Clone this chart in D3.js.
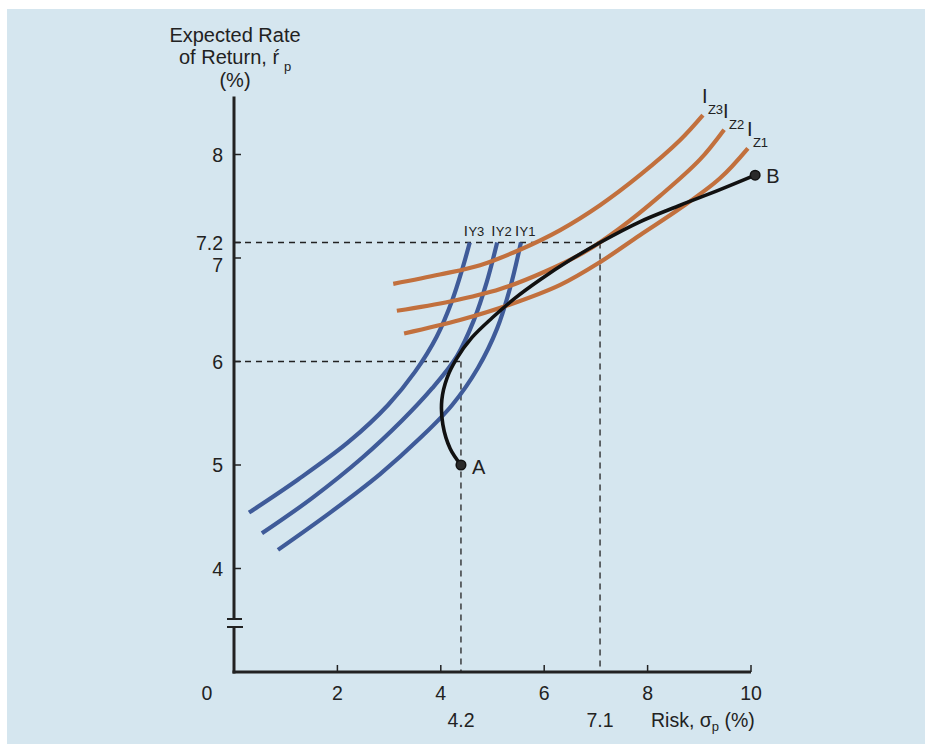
<!DOCTYPE html>
<html><head><meta charset="utf-8">
<script src="https://cdn.jsdelivr.net/npm/d3@7"></script>
<style>body{margin:0;background:#fff}svg{display:block}text{font-family:"Liberation Sans",Arial,Helvetica,sans-serif;fill:#222}</style>
</head><body><svg id="c" width="928" height="744"></svg>
<script>
// ---- data ----
const xTickValues = [2, 4, 6, 8, 10];
const xTickLabels = ["2", "4", "6", "8", "10"];
const yTickValues = [4, 5, 6, 7, 8];
const yTickLabels = ["4", "5", "6", "7", "8"];
const markX = [4.39, 7.08];          // dashed guide x positions
const markXLabels = ["4.2", "7.1"];
const markY = [6.0, 7.15];           // dashed guide y positions
const markYLabels = ["6", "7.2"];

const indiffYNames = ["Y3", "Y2", "Y1"];
const indiffY3 = [[0.29,4.54],[1.24,4.86],[2.21,5.22],[2.98,5.58],[3.50,5.90],[3.92,6.24],[4.22,6.59],[4.42,6.90],[4.56,7.15]];
const indiffY2 = [[0.54,4.34],[1.51,4.68],[2.48,5.07],[3.25,5.43],[3.83,5.74],[4.31,6.05],[4.64,6.40],[4.89,6.77],[5.09,7.15]];
const indiffY1 = [[0.85,4.18],[1.86,4.54],[2.82,4.91],[3.60,5.26],[4.22,5.58],[4.72,5.94],[5.09,6.32],[5.34,6.71],[5.55,7.15]];

const indiffZNames = ["Z3", "Z2", "Z1"];
const indiffZ3 = [[3.08,6.75],[3.98,6.84],[4.76,6.93],[5.53,7.08],[6.31,7.27],[7.08,7.51],[7.85,7.80],[8.63,8.14],[9.07,8.38]];
const indiffZ2 = [[3.15,6.49],[4.18,6.58],[5.15,6.70],[6.02,6.87],[6.79,7.06],[7.47,7.29],[8.24,7.60],[9.01,7.95],[9.48,8.24]];
const indiffZ1 = [[3.29,6.27],[4.37,6.40],[5.34,6.55],[6.31,6.74],[7.08,6.96],[7.85,7.22],[8.63,7.48],[9.40,7.77],[9.94,8.06]];

const frontier = [[4.39,5.00],[4.18,5.16],[4.04,5.39],[4.02,5.63],[4.12,5.84],[4.31,6.03],[4.60,6.23],[4.99,6.42],[5.43,6.61],[5.92,6.79],[6.50,6.98],[7.08,7.15],[7.85,7.35],[8.63,7.51],[9.40,7.66],[10.08,7.80]];
const pointNames = ["A", "B"];

// ---- drawing ----
const svg = d3.select("#c");
svg.append("rect").attr("x",7).attr("y",9).attr("width",918).attr("height",735).attr("fill","#d5e6ef");

const x = d3.scaleLinear().domain([0,10]).range([234,751]);
const y = d3.scaleLinear().domain([3,8]).range([672,154.5]);
const line = d3.line().x(d=>x(d[0])).y(d=>y(d[1])).curve(d3.curveCatmullRom.alpha(0.5));

// dashed guides
const dash = svg.append("g").attr("stroke","#222").attr("stroke-width",1.3).attr("stroke-dasharray","6,5").attr("fill","none");
dash.append("line").attr("x1",x(0)).attr("x2",x(markX[1])).attr("y1",y(markY[1])).attr("y2",y(markY[1]));
dash.append("line").attr("x1",x(markX[1])).attr("x2",x(markX[1])).attr("y1",y(markY[1])).attr("y2",y(3));
dash.append("line").attr("x1",x(0)).attr("x2",x(markX[0])).attr("y1",y(markY[0])).attr("y2",y(markY[0]));
dash.append("line").attr("x1",x(markX[0])).attr("x2",x(markX[0])).attr("y1",y(markY[0])).attr("y2",y(3));

// axes
const ax = svg.append("g").attr("stroke","#222").attr("fill","none");
ax.append("line").attr("x1",x(0)).attr("x2",x(0)).attr("y1",y(8.56)).attr("y2",619).attr("stroke-width",3);
ax.append("line").attr("x1",x(0)).attr("x2",x(0)).attr("y1",627).attr("y2",y(3)+1.5).attr("stroke-width",3);
ax.append("line").attr("x1",227).attr("x2",242).attr("y1",619).attr("y2",619).attr("stroke-width",2);
ax.append("line").attr("x1",227).attr("x2",243).attr("y1",627).attr("y2",627).attr("stroke-width",2);
ax.append("line").attr("x1",x(0)-1.5).attr("x2",x(10)).attr("y1",y(3)).attr("y2",y(3)).attr("stroke-width",3);
xTickValues.forEach(v=>ax.append("line").attr("x1",x(v)).attr("x2",x(v)).attr("y1",y(3)).attr("y2",y(3)-7).attr("stroke-width",1.5));
yTickValues.concat([markY[1]]).forEach(v=>ax.append("line").attr("x1",x(0)).attr("x2",x(0)+7).attr("y1",y(v)).attr("y2",y(v)).attr("stroke-width",1.5));

// tick labels
const T = svg.append("g").attr("font-size",19.5);
xTickValues.forEach((v,i)=>T.append("text").attr("x",x(v)).attr("y",700).attr("text-anchor","middle").text(xTickLabels[i]));
T.append("text").attr("x",207).attr("y",700).attr("text-anchor","middle").text("0");
yTickValues.forEach((v,i)=>{
  const off = v===7 ? 7 : 0;
  T.append("text").attr("x",223).attr("y",y(v)+off).attr("dy","0.36em").attr("text-anchor","end").text(yTickLabels[i]);
});
T.append("text").attr("x",223).attr("y",y(markY[1])+1).attr("dy","0.36em").attr("text-anchor","end").text(markYLabels[1]);
markX.forEach((v,i)=>T.append("text").attr("x",x(v)).attr("y",727).attr("text-anchor","middle").text(markXLabels[i]));
const risk = T.append("text").attr("x",651).attr("y",727);
risk.append("tspan").text("Risk, σ");
risk.append("tspan").attr("font-size",13).attr("dy",4).text("p");
risk.append("tspan").attr("dy",-4).text(" (%)");

// y title
T.append("text").attr("x",235).attr("y",42).attr("text-anchor","middle").attr("font-size",20).text("Expected Rate");
const t2 = T.append("text").attr("x",179).attr("y",64).attr("font-size",20);
t2.append("tspan").text("of Return, r\u0301");
t2.append("tspan").attr("font-size",13).attr("dx",5).attr("dy",7).text("p");
T.append("text").attr("x",235).attr("y",87).attr("text-anchor","middle").attr("font-size",20).text("(%)");

// indifference curves
const blue = "#3f5b99", orange = "#c2703d";
const ys = [indiffY3, indiffY2, indiffY1];
ys.forEach((d,i)=>{
  svg.append("path").attr("d",line(d)).attr("fill","none").attr("stroke",blue).attr("stroke-width",4.2).attr("stroke-linecap","butt");
  const top = d[d.length-1];
  const t = svg.append("text").attr("x",x(top[0])-6).attr("y",y(top[1])-6).attr("font-size",13);
  t.append("tspan").attr("font-size",15).text("I");
  t.append("tspan").attr("dx",0.5).text(indiffYNames[i]);
});
const zs = [indiffZ3, indiffZ2, indiffZ1];
zs.forEach((d,i)=>{
  svg.append("path").attr("d",line(d)).attr("fill","none").attr("stroke",orange).attr("stroke-width",4.2).attr("stroke-linecap","butt");
  const e = d[d.length-1];
  svg.append("text").attr("x",x(e[0])-1).attr("y",y(e[1])-12).attr("font-size",20).text("I");
  svg.append("text").attr("x",x(e[0])+5).attr("y",y(e[1])-1).attr("font-size",13).text(indiffZNames[i]);
});

// frontier
svg.append("path").attr("d",line(frontier)).attr("fill","none").attr("stroke","#111").attr("stroke-width",3.6);
const ends = [frontier[0], frontier[frontier.length-1]];
ends.forEach((p,i)=>{
  svg.append("circle").attr("cx",x(p[0])).attr("cy",y(p[1])).attr("r",4.8).attr("fill","#2a2a2a").attr("stroke","#111").attr("stroke-width",1.5);
  svg.append("text").attr("x",x(p[0])+11).attr("y",y(p[1])+ (i===0?9:8)).attr("font-size",20).text(pointNames[i]);
});
</script></body></html>
